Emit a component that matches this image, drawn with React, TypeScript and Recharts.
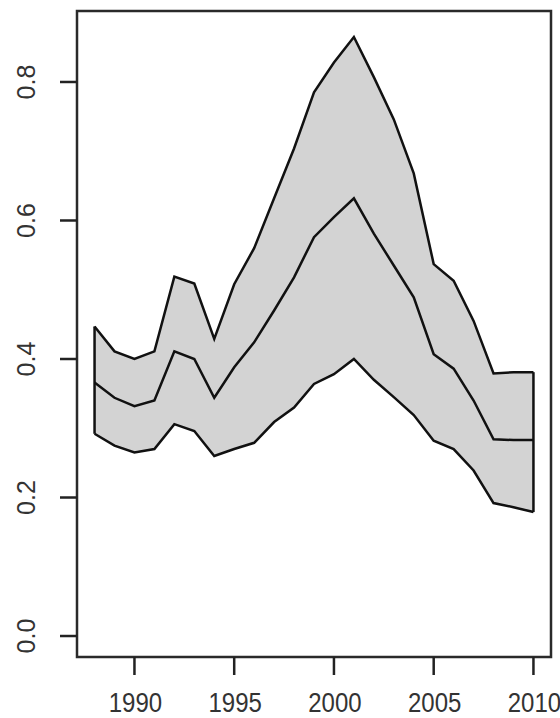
import { ComposedChart, Area, Line, XAxis, YAxis, ReferenceArea, ReferenceLine } from 'recharts';

// values
const years = [1988, 1989, 1990, 1991, 1992, 1993, 1994, 1995, 1996, 1997, 1998, 1999, 2000, 2001, 2002, 2003, 2004, 2005, 2006, 2007, 2008, 2009, 2010];
const upper = [0.447, 0.411, 0.4, 0.411, 0.519, 0.509, 0.429, 0.508, 0.56, 0.632, 0.704, 0.785, 0.828, 0.865, 0.807, 0.746, 0.668, 0.537, 0.513, 0.455, 0.379, 0.381, 0.381];
const middle = [0.366, 0.344, 0.332, 0.34, 0.411, 0.4, 0.344, 0.388, 0.424, 0.47, 0.518, 0.576, 0.605, 0.632, 0.581, 0.535, 0.489, 0.407, 0.386, 0.34, 0.284, 0.283, 0.283];
const lower = [0.292, 0.275, 0.265, 0.27, 0.306, 0.296, 0.26, 0.27, 0.279, 0.309, 0.33, 0.364, 0.378, 0.4, 0.37, 0.345, 0.319, 0.282, 0.27, 0.239, 0.192, 0.186, 0.179];

const xTicks = [1990, 1995, 2000, 2005, 2010];
const yTicks = [0, 0.2, 0.4, 0.6, 0.8];
const xDomain = [1987.12, 2010.88];
const yDomain = [-0.0303, 0.9025];

const data = years.map((year, i) => ({
  year,
  band: [lower[i], upper[i]],
  upper: upper[i],
  middle: middle[i],
  lower: lower[i],
}));

const last = years.length - 1;
const FONT = '"Liberation Sans", Arial, sans-serif';

// x labels look slightly stretched vertically in the original
const XTick = ({ x, payload }: any) => (
  <text
    transform={`translate(${x + 1} 712) scale(1 1.15)`}
    textAnchor="middle"
    fontFamily={FONT}
    fontSize={24}
    fill="#333"
  >
    {payload.value}
  </text>
);

const YTick = ({ y, payload }: any) => (
  <text
    x={26}
    y={y}
    transform={`rotate(-90 26 ${y})`}
    textAnchor="middle"
    dominantBaseline="central"
    fontFamily={FONT}
    fontSize={25}
    fill="#333"
  >
    {payload.value.toFixed(1)}
  </text>
);

export default function App() {
  return (
    <div style={{ position: 'absolute', left: 0, top: 0, width: 560, height: 718, background: '#fff' }}>
      <ComposedChart width={560} height={718} data={data} margin={{ top: 11, right: 9, bottom: 0, left: 0 }}>
        <XAxis
          dataKey="year"
          type="number"
          domain={xDomain}
          ticks={xTicks}
          axisLine={false}
          tickLine={{ stroke: '#222', strokeWidth: 2.5 }}
          tickSize={18}
          tick={<XTick />}
          height={61}
        />
        <YAxis
          type="number"
          domain={yDomain}
          ticks={yTicks}
          axisLine={false}
          tickLine={{ stroke: '#222', strokeWidth: 2.5 }}
          tickSize={17}
          tick={<YTick />}
          width={77}
        />
        <Area dataKey="band" fill="#d3d3d3" fillOpacity={1} stroke="none" isAnimationActive={false} />
        <Line dataKey="upper" stroke="#111" strokeWidth={2.5} dot={false} isAnimationActive={false} />
        <Line dataKey="middle" stroke="#111" strokeWidth={2.5} dot={false} isAnimationActive={false} />
        <Line dataKey="lower" stroke="#111" strokeWidth={2.5} dot={false} isAnimationActive={false} />
        <ReferenceLine
          segment={[{ x: years[0], y: lower[0] }, { x: years[0], y: upper[0] }]}
          stroke="#111"
          strokeWidth={2.5}
        />
        <ReferenceLine
          segment={[{ x: years[last], y: lower[last] }, { x: years[last], y: upper[last] }]}
          stroke="#111"
          strokeWidth={2.5}
        />
        <ReferenceArea
          x1={xDomain[0]}
          x2={xDomain[1]}
          y1={yDomain[0]}
          y2={yDomain[1]}
          fill="none"
          stroke="#2a2a2a"
          strokeWidth={2.5}
          ifOverflow="visible"
        />
      </ComposedChart>
    </div>
  );
}
